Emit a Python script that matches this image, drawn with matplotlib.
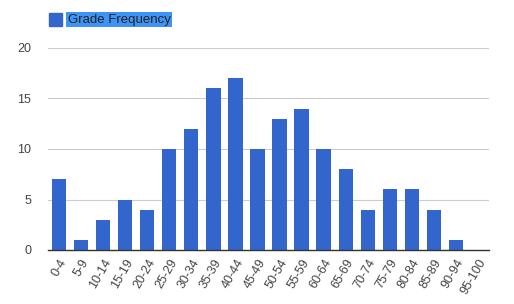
import matplotlib
matplotlib.use('Agg')
import matplotlib.pyplot as plt
import numpy as np

grade_bins = ['0-4', '5-9', '10-14', '15-19', '20-24', '25-29', '30-34', '35-39',
              '40-44', '45-49', '50-54', '55-59', '60-64', '65-69', '70-74', '75-79',
              '80-84', '85-89', '90-94', '95-100']
frequency = [7, 1, 3, 5, 4, 10, 12, 16, 17, 10, 13, 14, 10, 8, 4, 6, 6, 4, 1, 0]
y_ticks = [0, 5, 10, 15, 20]

bar_color = '#3366cc'
text_color = '#444444'

plt.rcParams['font.family'] = ['Arial', 'Liberation Sans', 'DejaVu Sans']

fig = plt.figure(figsize=(5.14, 3.04), dpi=100)
ax = fig.add_axes([48/514, 1-250/304, 441/514, 202/304])

x = np.arange(len(grade_bins))
ax.bar(x, frequency, width=0.65, color=bar_color, zorder=3)

ax.set_xlim(-0.5, len(grade_bins) - 0.5)
ax.set_ylim(0, 20)
ax.set_yticks(y_ticks)
ax.set_yticklabels([str(v) for v in y_ticks])
ax.set_xticks(x)
ax.set_xticklabels(grade_bins, rotation=60, ha='right', rotation_mode='anchor')
ax.tick_params(axis='both', length=0, labelsize=9, colors=text_color)
ax.tick_params(axis='x', pad=5)
ax.tick_params(axis='y', pad=12)

ax.grid(axis='y', color='#cccccc', linewidth=0.8, zorder=0)
for s in ['top', 'right', 'left']:
    ax.spines[s].set_visible(False)
ax.spines['bottom'].set_color('#333333')
ax.spines['bottom'].set_linewidth(1)
ax.spines['bottom'].set_zorder(4)

# legend: square plus highlighted label
fig.patches.append(plt.Rectangle((49/514, 1-26/304), 13/514, 13/304,
                                 transform=fig.transFigure, color=bar_color))
fig.text(68/514, 1-19.5/304, 'Grade Frequency', fontsize=9.5, color='#222222',
         va='center', ha='left',
         bbox=dict(boxstyle='square,pad=0.12', fc='#3d94f6', ec='none'))

fig.savefig('out.png', dpi=100)
